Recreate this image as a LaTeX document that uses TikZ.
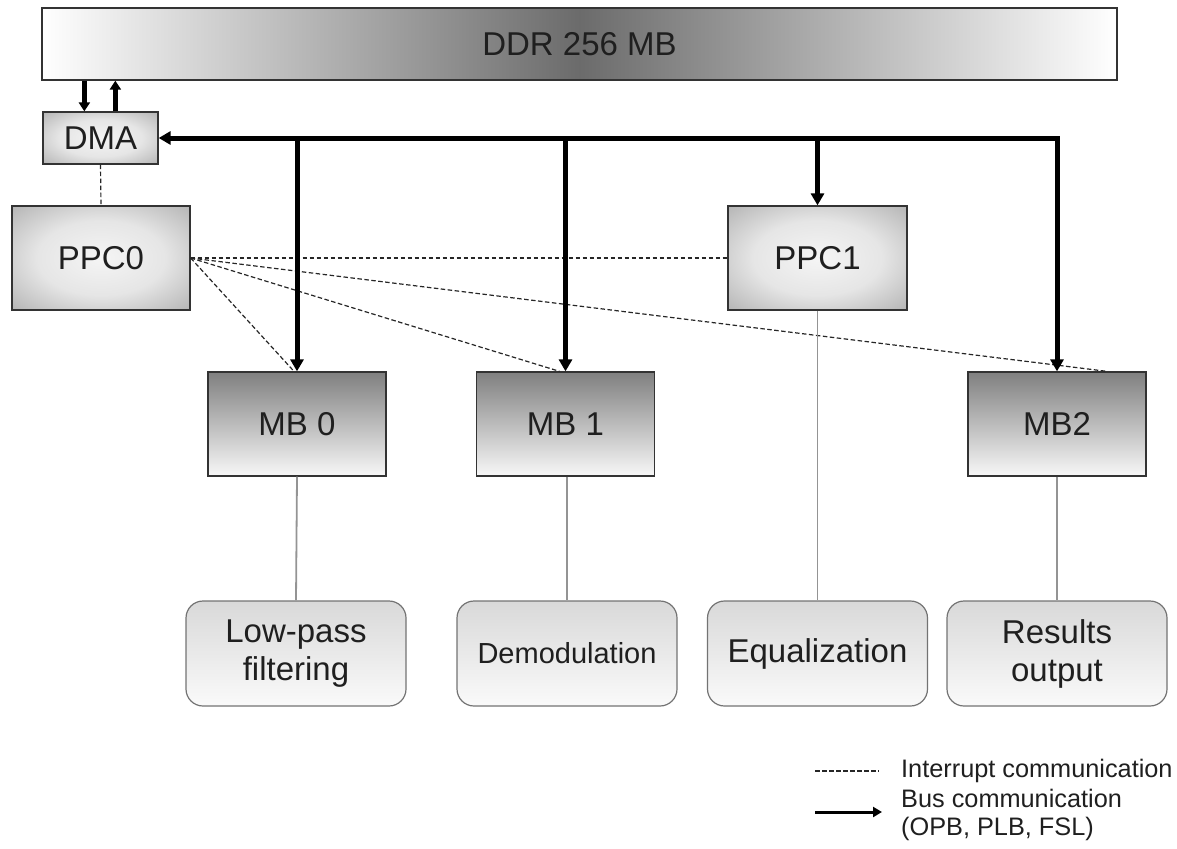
\documentclass[tikz,border=0pt]{standalone}
\usepackage{fontspec}
\setmainfont{Liberation Sans}
\usetikzlibrary{arrows.meta}

\definecolor{glowin}{gray}{0.96}
\definecolor{glowmid}{gray}{0.90}
\definecolor{glowout}{gray}{0.55}
\definecolor{glowcorner}{gray}{0.50}
\pgfdeclareradialshading{boxglow}{\pgfpoint{0bp}{0bp}}{%
  color(0bp)=(glowin); color(18bp)=(glowmid); color(50bp)=(glowout); color(71bp)=(glowcorner)}

\tikzset{
  boxtext/.style={font=\fontsize{33}{38}\selectfont, text=black!88},
  cpu/.style={draw=black!80, line width=1.3pt, inner sep=0pt, shading=boxglow, boxtext},
  mbbox/.style={draw=black!80, line width=1.3pt, inner sep=0pt,
    top color=black!50, bottom color=black!3, boxtext, minimum width=178pt, minimum height=104pt},
  taskbox/.style={draw=black!55, line width=1.2pt, rounded corners=17pt, inner sep=0pt,
    top color=black!15, bottom color=black!2, boxtext, align=center,
    minimum width=220pt, minimum height=105pt},
  bus/.style={line width=5pt, black},
  ddrlink/.style={line width=4.5pt, black, -{Triangle[length=9pt,width=11pt]}},
  tip/.style={-{Triangle[length=12pt,width=13pt]}},
  irq/.style={black!85, line width=1.2pt, dash pattern=on 4.5pt off 2.5pt},
  taskline/.style={black!42, line width=1.8pt},
  legendtext/.style={font=\fontsize{25.3}{28}\selectfont, text=black!88, inner sep=0pt, align=left}
}

\begin{document}
\begin{tikzpicture}[x=1pt, y=-1pt]
\useasboundingbox (0,0) rectangle (1177,848);

% memory bar
\node[draw=black!80, line width=1.3pt, inner sep=0pt, left color=white, right color=white,
      middle color=black!58, boxtext, minimum width=1075pt, minimum height=72pt]
      (DDR) at (579.5,44) {\raisebox{-3pt}{DDR 256 MB}};

% processors and DMA
\node[cpu, minimum width=115pt, minimum height=52pt] (DMA) at (100.5,138) {DMA};
\node[cpu, minimum width=178pt, minimum height=104pt] (PPC0) at (101,258) {PPC0};
\node[cpu, minimum width=179pt, minimum height=104pt] (PPC1) at (817.5,258) {PPC1};

% MicroBlaze cores
\node[mbbox] (MB0) at (297,424) {MB 0};
\node[mbbox] (MB1) at (565.5,424) {MB 1};
\node[mbbox] (MB2) at (1057,424) {MB2};

% processing tasks
\node[taskbox] (LP)  at (296,653.5) {Low-pass\\filtering};
\node[taskbox, font=\fontsize{29}{34}\selectfont] (DEM) at (567,653.5) {Demodulation};
\node[taskbox] (EQ)  at (817.5,653.5) {Equalization};
\node[taskbox] (RES) at (1057,653.5) {Results\\output};

% DDR <-> DMA
\path (DMA.north west) ++(42,0) coordinate (dmaIn);
\path (DMA.north west) ++(73,0) coordinate (dmaOut);
\draw[ddrlink] (DDR.south -| dmaIn) -- (dmaIn);
\draw[ddrlink] (dmaOut) -- (DDR.south -| dmaOut);

% interrupt lines
\draw[irq] (DMA.south) -- (PPC0.north);
\draw[irq] (PPC0.east) -- (PPC1.west);
\draw[irq] (PPC0.east) -- ([xshift=-3pt]MB0.north);
\draw[irq] (PPC0.east) -- ([xshift=-6pt]MB1.north);
\draw[irq] (PPC0.east) -- ([xshift=50pt]MB2.north);

% system bus
\coordinate (busEnd) at (MB2.north |- DMA.east);
\draw[bus, {Triangle[length=12pt,width=13pt]}-{Triangle[length=12pt,width=13pt]}]
  (DMA.east) -- (busEnd) -- (MB2.north);
\draw[bus, tip] (MB0.north |- DMA.east) -- (MB0.north);
\draw[bus, tip] (MB1.north |- DMA.east) -- (MB1.north);
\draw[bus, tip] (PPC1.north |- DMA.east) -- (PPC1.north);

% task links
\draw[taskline] (MB0.south) -- (LP.north);
\draw[taskline] (MB1.south -| DEM.north) -- (DEM.north);
\draw[taskline] (PPC1.south) -- (EQ.north);
\draw[taskline] (MB2.south) -- (RES.north);

% legend
\coordinate (irqA) at (815,771);
\coordinate (irqB) at (879,771);
\coordinate (busA) at (815,812);
\coordinate (busB) at (882,812);
\draw[black!85, line width=1.2pt, dash pattern=on 4.5pt off 2.5pt] (irqA) -- (irqB);
\draw[line width=3pt, -{Triangle[length=9pt,width=10pt]}] (busA) -- (busB);
\node[legendtext, anchor=west] (irqLabel) at (901,771) {Interrupt communication};
\node[legendtext, anchor=west] (busLabel) at (901,815) {Bus communication\\(OPB, PLB, FSL)};
\end{tikzpicture}
\end{document}
